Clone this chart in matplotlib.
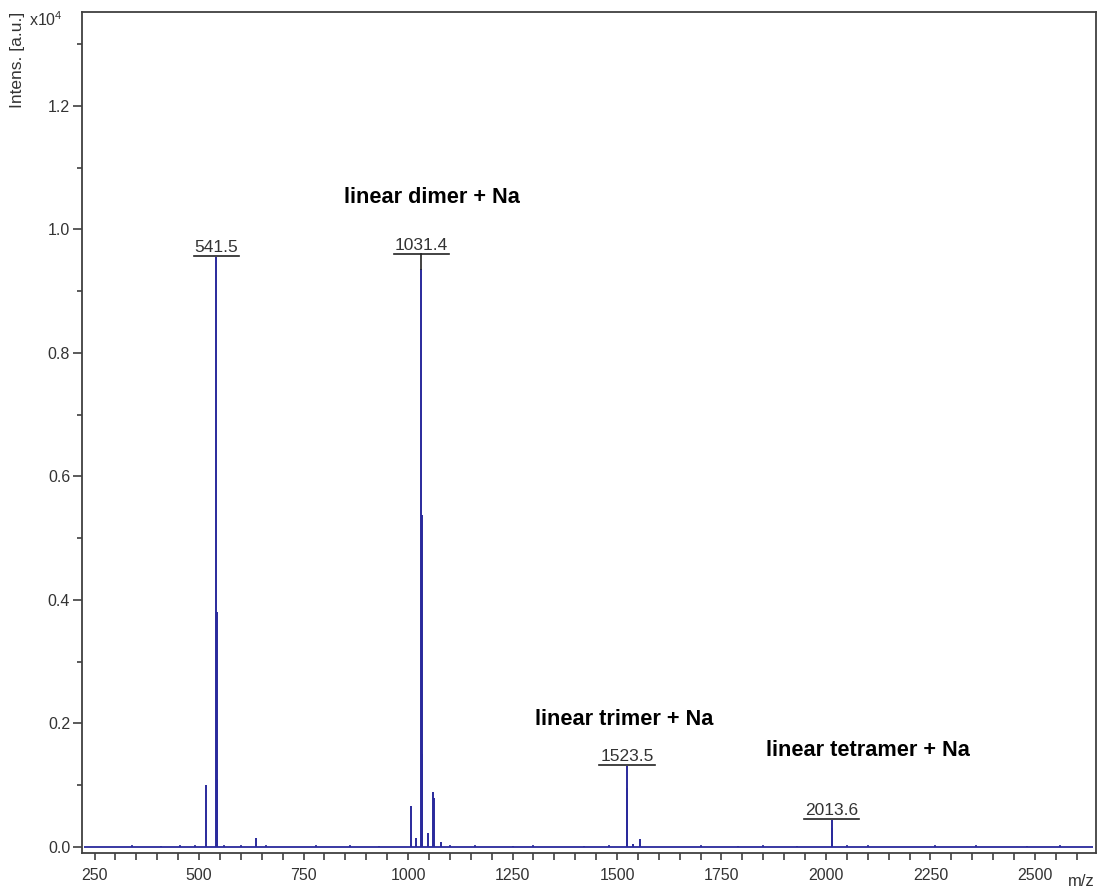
import matplotlib
matplotlib.use("Agg")
import matplotlib.pyplot as plt
import numpy as np

plt.rcParams["font.family"] = ["Liberation Sans", "DejaVu Sans"]
plt.rcParams["mathtext.fontset"] = "custom"
plt.rcParams["mathtext.rm"] = "Liberation Sans"
plt.rcParams["mathtext.it"] = "Liberation Sans:italic"

# Peak list (m/z, intensity in units of 1e4 a.u.)
peak_mz = [517.0, 541.5, 542.5, 543.5, 636.0,
           1007.0, 1019.0, 1031.4, 1032.4, 1033.4, 1048.0, 1060.0, 1061.5, 1079.0,
           1523.5, 1524.5, 1538.0, 1555.0,
           2013.6, 2014.6]
peak_int = [0.100, 0.955, 0.380, 0.110, 0.015,
            0.066, 0.015, 0.936, 0.537, 0.150, 0.023, 0.089, 0.080, 0.008,
            0.131, 0.095, 0.005, 0.013,
            0.044, 0.030]

# Small baseline blips
blip_mz = [340, 410, 455, 490, 560, 600, 660, 780, 860, 930, 1100, 1160, 1250,
           1300, 1420, 1480, 1700, 1790, 1850, 1930, 2050, 2100, 2260, 2360, 2480, 2560]
blip_int = [0.003, 0.002, 0.003, 0.004, 0.004, 0.003, 0.003, 0.004, 0.003, 0.002,
            0.003, 0.003, 0.002, 0.003, 0.002, 0.004, 0.003, 0.002, 0.003, 0.002,
            0.004, 0.003, 0.003, 0.004, 0.002, 0.003]

# Labelled peaks
label_mz = [541.5, 1031.4, 1523.5, 2013.6]
label_int = [0.955, 0.936, 0.131, 0.044]
label_txt = ["541.5", "1031.4", "1523.5", "2013.6"]
label_lift_px = [1, 15, 1, 1]

# Assignment annotations
assign_txt = ["linear dimer + Na", "linear trimer + Na", "linear tetramer + Na"]
assign_mz = [1057, 1517, 2100]
assign_y = [1.051, 0.206, 0.157]

x_major = [250, 500, 750, 1000, 1250, 1500, 1750, 2000, 2250, 2500]
y_major = [0.0, 0.2, 0.4, 0.6, 0.8, 1.0, 1.2]

W, H, DPI = 1099, 892, 100
fig = plt.figure(figsize=(W / DPI, H / DPI), dpi=DPI)
ax = fig.add_axes([82 / W, 1 - 853 / H, (1096 - 82) / W, (853 - 12) / H])

line_color = "#2a2a9c"
axis_color = "#404040"
text_color = "#333333"

ax.set_xlim(220, 2646)
ax.set_ylim(-0.0097, 1.352)

# Baseline and peaks
ax.plot([225, 2640], [0, 0], color=line_color, lw=1.3, solid_capstyle="butt")
ax.vlines(blip_mz, 0, blip_int, color=line_color, lw=1.2)
ax.vlines(peak_mz, 0, peak_int, color=line_color, lw=1.4)

for s in ax.spines.values():
    s.set_color(axis_color)
    s.set_linewidth(1.3)

ax.set_xticks(x_major)
ax.set_xticks(np.arange(300, 2650, 50), minor=True)
ax.set_yticks(y_major)
ax.set_yticks([0.1, 0.3, 0.5, 0.7, 0.9, 1.1, 1.3], minor=True)
ax.set_yticklabels([f"{v:.1f}" for v in y_major])
ax.tick_params(axis="x", which="both", direction="out", length=5, width=1.2,
               color=axis_color, labelsize=11.5, labelcolor=text_color, pad=6)
ax.tick_params(axis="y", which="major", direction="out", length=6.5, width=1.2,
               color=axis_color, labelsize=11.5, labelcolor=text_color, pad=2)
ax.tick_params(axis="y", which="minor", direction="out", length=3.5, width=1.2,
               color=axis_color)

# Peak labels with underline
fig.canvas.draw()
renderer = fig.canvas.get_renderer()
px_per_unit = ax.transData.transform((0, 1))[1] - ax.transData.transform((0, 0))[1]
for mz, h, txt, lift in zip(label_mz, label_int, label_txt, label_lift_px):
    level = h + lift / px_per_unit
    t = ax.annotate(txt, xy=(mz, level), xytext=(0, 3), textcoords="offset points",
                    ha="center", va="baseline", fontsize=12.5, color=text_color)
    bb = t.get_window_extent(renderer)
    x0 = ax.transData.inverted().transform((bb.x0 - 1, 0))[0]
    x1 = ax.transData.inverted().transform((bb.x1 + 1, 0))[0]
    ax.plot([x0, x1], [level, level], color="#222222", lw=1.2)
    if lift > 2:
        ax.plot([mz, mz], [h, level], color="#222222", lw=1.2)

for txt, mz, y in zip(assign_txt, assign_mz, assign_y):
    ax.text(mz, y, txt, ha="center", va="center", fontsize=15.7,
            fontweight="bold", color="black")

fig.text(18 / W, 1 - 12 / H, "Intens. [a.u.]", rotation=90, ha="center", va="top",
         fontsize=12.5, color=text_color)
fig.text(46 / W, 1 - 20 / H, r"x10$^{4}$", ha="center", va="center",
         fontsize=11.5, color=text_color)
fig.text(1081 / W, 1 - 882 / H, "m/z", ha="center", va="center",
         fontsize=12, color=text_color)

fig.savefig("out.png", dpi=DPI)
